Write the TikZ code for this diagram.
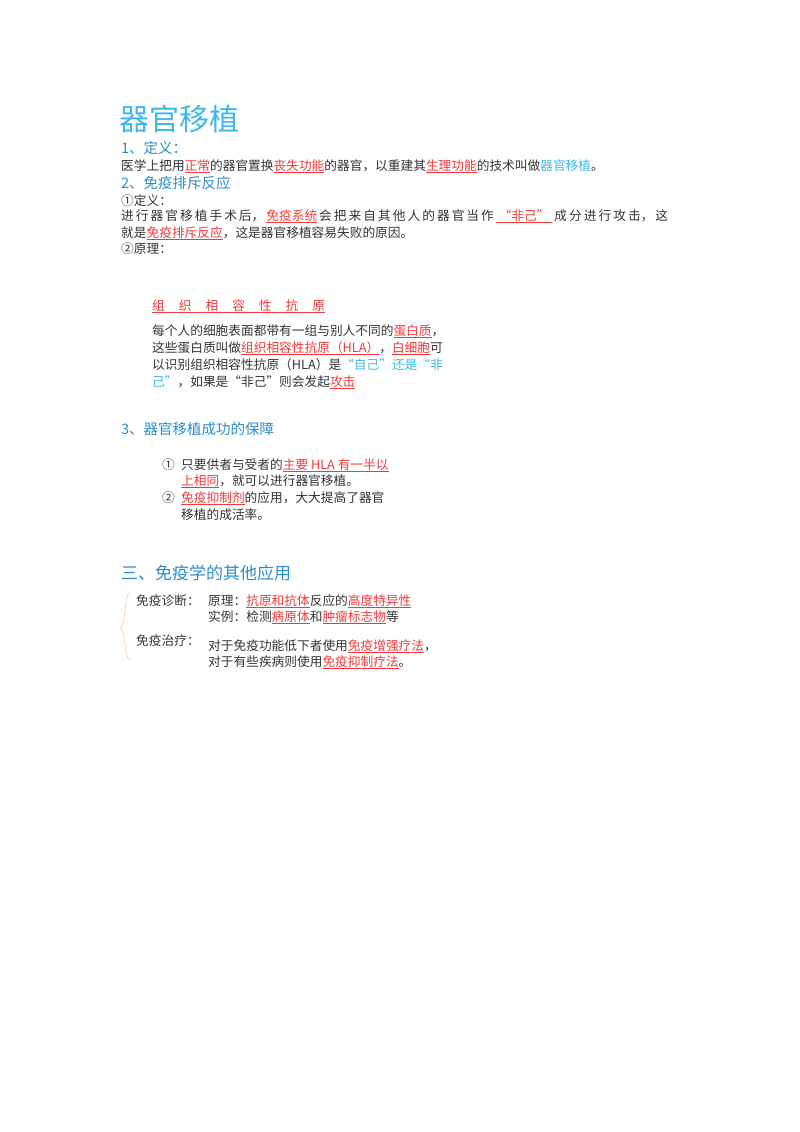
\documentclass[tikz,border=0pt]{standalone}
\usepackage{fontspec}
\setmainfont{Noto Sans CJK SC}
\usepackage{xcolor}
\definecolor{sec}{HTML}{2E8BCB}
\definecolor{lb}{HTML}{3DB8EA}
\definecolor{rd}{HTML}{F03A3A}
\definecolor{tx}{HTML}{333333}
\newcommand{\hl}[1]{\textcolor{rd}{\underline{#1}}}
\newcommand{\lbt}[1]{\textcolor{lb}{#1}}
\newcommand{\gp}{\hspace{14pt}}
\begin{document}
\begin{tikzpicture}[x=1pt,y=-1pt,
  body/.style={anchor=base west,inner sep=0pt,text=tx,font=\fontsize{12.7}{15}\selectfont},
  secs/.style={anchor=base west,inner sep=0pt,text=sec,font=\fontsize{14.5}{17}\selectfont}]
\useasboundingbox (0,0) rectangle (800,1132);
\node[anchor=base west,inner sep=0pt,text=lb,font=\fontsize{30}{34}\selectfont] (title) at (119,130) {器官移植};
\node[secs] (s1) at (121,153) {1、定义：};
\node[body] (l1) at (121,170) {医学上把用\hl{正常}的器官置换\hl{丧失功能}的器官，以重建其\hl{生理功能}的技术叫做\lbt{器官移植}。};
\node[secs] (s2) at (121,188) {2、免疫排斥反应};
\node[body] (l2) at (121,205) {①定义：};
\node[body] (l3) at (121,220) {\makebox[547pt][s]{进\hfil 行\hfil 器\hfil 官\hfil 移\hfil 植\hfil 手\hfil 术\hfil 后，\hfil \hl{免疫系统}\hfil 会\hfil 把\hfil 来\hfil 自\hfil 其\hfil 他\hfil 人\hfil 的\hfil 器\hfil 官\hfil 当\hfil 作\hfil \hl{\ “非己”\ }\hfil 成\hfil 分\hfil 进\hfil 行\hfil 攻\hfil 击，\hfil 这}};
\node[body] (l3b) at (121,237) {就是\hl{免疫排斥反应}，这是器官移植容易失败的原因。};
\node[body] (l4) at (121,253) {②原理：};
\node[body] (h) at (152,310) {\hl{组\gp 织\gp 相\gp 容\gp 性\gp 抗\gp 原}};
\node[body] (p1) at (152,335) {每个人的细胞表面都带有一组与别人不同的\hl{蛋白质}，};
\node[body] (p2) at (152,352) {这些蛋白质叫做\hl{组织相容性抗原（HLA）}，\hl{白细胞}可};
\node[body] (p3) at (152,369) {以识别组织相容性抗原（HLA）是\lbt{“自己”还是“非}};
\node[body] (p4) at (152,386) {\lbt{己”}，如果是“非己”则会发起\hl{攻击}};
\node[secs] (s3) at (121,434) {3、器官移植成功的保障};
\node[body] (c1) at (162,469) {①};
\node[body] (i1) at (181,469) {只要供者与受者的\hl{主要 HLA 有一半以}};
\node[body] (i2) at (181,485) {\hl{上相同}，就可以进行器官移植。};
\node[body] (c2) at (162,502) {②};
\node[body] (i3) at (181,502) {\hl{免疫抑制剂}的应用，大大提高了器官};
\node[body] (i4) at (181,519) {移植的成活率。};
\node[anchor=base west,inner sep=0pt,text=sec,font=\fontsize{17}{20}\selectfont] (s4) at (121,579) {三、免疫学的其他应用};
\node[body] (d1) at (136,605) {免疫诊断：};
\node[body] (d2) at (208,605) {原理：\hl{抗原和抗体}反应的\hl{高度特异性}};
\node[body] (d3) at (208,621) {实例：检测\hl{病原体}和\hl{肿瘤标志物}等};
\node[body] (t1) at (136,645) {免疫治疗：};
\node[body] (t2) at (208,650) {对于免疫功能低下者使用\hl{免疫增强疗法}，};
\node[body] (t3) at (208,666) {对于有些疾病则使用\hl{免疫抑制疗法}。};
\coordinate (bt) at (130,593);
\coordinate (bb) at (130,660);
\draw[draw=orange!40,line width=0.6pt] (bt) .. controls (124,593) and (126,627) .. (120,628) .. controls (126,629) and (124,660) .. (bb);
\end{tikzpicture}
\end{document}
